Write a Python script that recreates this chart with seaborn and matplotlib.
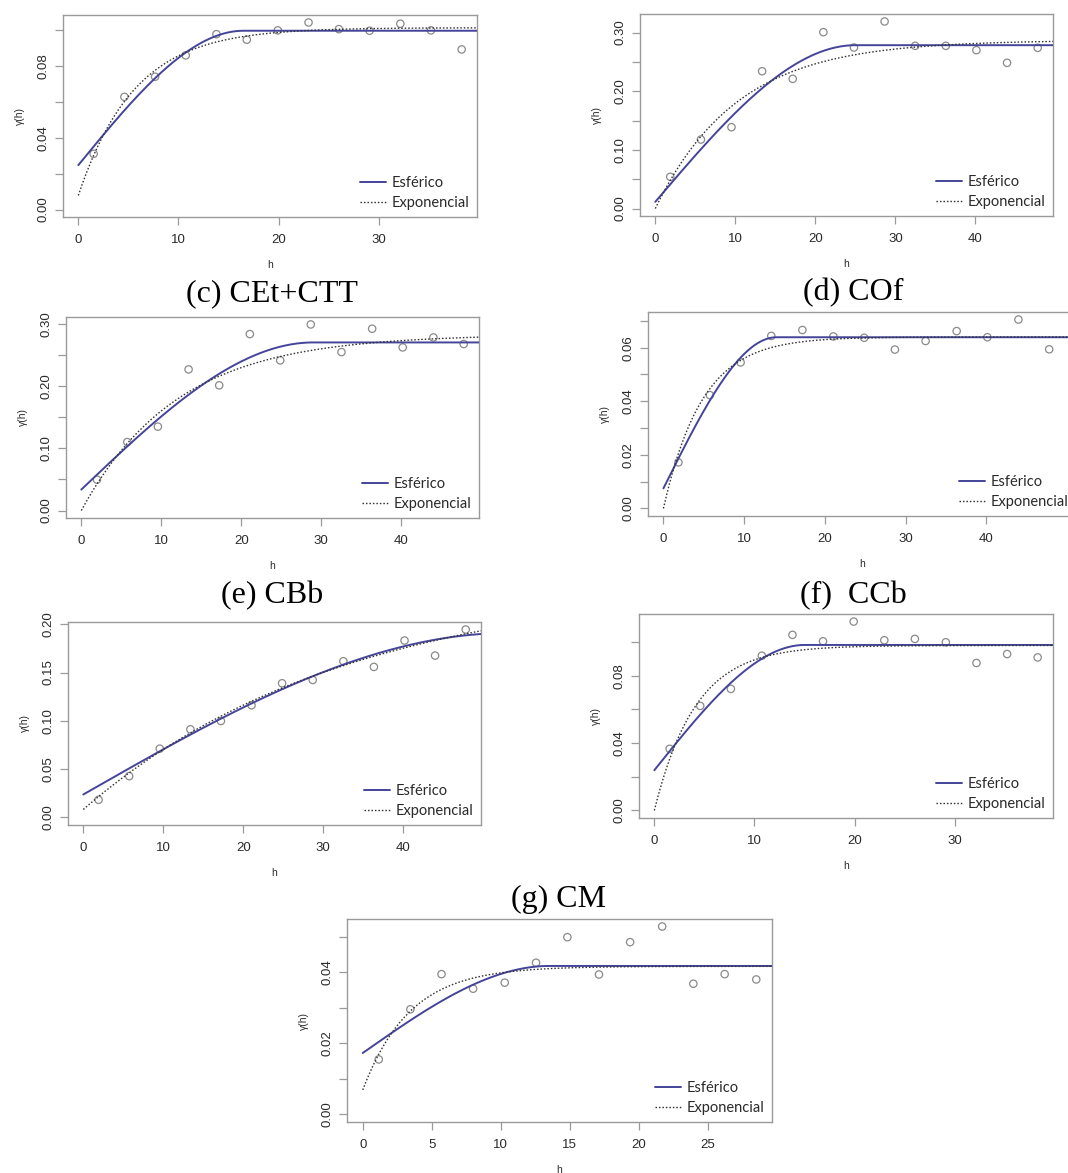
import numpy as np
import pandas as pd
import matplotlib
matplotlib.use("Agg")
import matplotlib.pyplot as plt
import seaborn as sns

# ---------------- data ----------------
captions = ["(c) CEt+CTT", "(d) COf", "(e) CBb", "(f)  CCb", "(g) CM"]
legend_labels = ["Esférico", "Exponencial"]

# panel A (top-left)
h_a = [1.53, 4.60, 7.67, 10.73, 13.80, 16.83, 19.93, 23.00, 26.03, 29.10, 32.17, 35.23, 38.30]
g_a = [0.0310, 0.0627, 0.0739, 0.0858, 0.0976, 0.0945, 0.0997, 0.1041, 0.1004, 0.0995, 0.1034, 0.0997, 0.0891]
sph_a = [0.0247, 0.0748, 16.5]   # nugget, partial sill, range
exp_a = [0.0078, 0.0934, 5.6]

# panel B (top-right)
h_b = [1.87, 5.70, 9.52, 13.35, 17.17, 21.00, 24.82, 28.65, 32.47, 36.30, 40.12, 43.95, 47.78]
g_b = [0.0540, 0.1176, 0.1386, 0.2340, 0.2210, 0.3006, 0.2744, 0.3188, 0.2773, 0.2773, 0.2699, 0.2483, 0.2739]
sph_b = [0.0114, 0.2670, 25.0]
exp_b = [0.0000, 0.2870, 10.2]

# panel C: CEt+CTT
h_c = [1.96, 5.75, 9.58, 13.42, 17.25, 21.08, 24.88, 28.70, 32.54, 36.38, 40.20, 44.04, 47.83]
g_c = [0.0497, 0.1100, 0.1348, 0.2267, 0.2011, 0.2834, 0.2412, 0.2989, 0.2545, 0.2920, 0.2620, 0.2780, 0.2674]
sph_c = [0.0337, 0.2363, 29.0]
exp_c = [0.0000, 0.2830, 12.0]

# panel D: COf
h_d = [1.86, 5.75, 9.56, 13.36, 17.21, 21.05, 24.86, 28.67, 32.47, 36.32, 40.12, 43.97, 47.78]
g_d = [0.0172, 0.0423, 0.0545, 0.0644, 0.0666, 0.0642, 0.0637, 0.0593, 0.0625, 0.0662, 0.0639, 0.0705, 0.0594]
sph_d = [0.0075, 0.0564, 14.0]
exp_d = [0.0000, 0.0640, 4.8]

# panel E: CBb
h_e = [1.91, 5.74, 9.56, 13.39, 17.21, 21.04, 24.86, 28.69, 32.52, 36.34, 40.17, 43.99, 47.82]
g_e = [0.0183, 0.0428, 0.0712, 0.0912, 0.0998, 0.1161, 0.1389, 0.1423, 0.1617, 0.1558, 0.1831, 0.1675, 0.1945]
sph_e = [0.0238, 0.1670, 53.0]
exp_e = [0.0083, 0.2375, 33.0]

# panel F: CCb
h_f = [1.53, 4.58, 7.64, 10.73, 13.79, 16.84, 19.90, 22.96, 26.01, 29.10, 32.16, 35.22, 38.27]
g_f = [0.0366, 0.0621, 0.0722, 0.0919, 0.1043, 0.1005, 0.1122, 0.1011, 0.1019, 0.0999, 0.0876, 0.0929, 0.0909]
sph_f = [0.0239, 0.0744, 15.0]
exp_f = [0.0000, 0.0980, 4.1]

# panel G: CM
h_g = [1.16, 3.45, 5.71, 8.00, 10.29, 12.56, 14.83, 17.12, 19.38, 21.70, 23.96, 26.23, 28.52]
g_g = [0.0155, 0.0296, 0.0395, 0.0354, 0.0371, 0.0427, 0.0499, 0.0394, 0.0485, 0.0529, 0.0368, 0.0395, 0.0380]
sph_g = [0.0173, 0.0245, 13.5]
exp_g = [0.0069, 0.0348, 3.4]

xticks_a = [0, 10, 20, 30]
xticks_b = [0, 10, 20, 30, 40]
xticks_g = [0, 5, 10, 15, 20, 25]

# ---------------- variogram models ----------------
def spherical(h, p):
    c0, c, a = p
    r = np.minimum(h / a, 1.0)
    return c0 + c * (1.5 * r - 0.5 * r ** 3)

def exponential(h, p):
    c0, c, a = p
    return c0 + c * (1.0 - np.exp(-h / a))

# ---------------- style ----------------
sns.set_theme(style="ticks")
plt.rcParams["font.family"] = ["Liberation Sans", "DejaVu Sans"]

W, H = 1068, 1173
fig = plt.figure(figsize=(W / 100, H / 100), dpi=100)

FRAME = "#9a9a9a"
PT_COL = "#8a8a8a"
SPH_COL = "#44449a"
EXP_COL = "#333333"
TXT = "#2a2a2a"

# (left, right, top, bottom) in pixels, y tick step, label every n, xticks, xlim right override
panels = [
    (h_a, g_a, sph_a, exp_a, (63, 477, 15, 217), 0.02, 2, xticks_a, None),
    (h_b, g_b, sph_b, exp_b, (640, 1053, 14, 216), 0.05, 2, xticks_b, None),
    (h_c, g_c, sph_c, exp_c, (66, 479, 317, 518), 0.05, 2, xticks_b, None),
    (h_d, g_d, sph_d, exp_d, (648, 1076, 312, 516), 0.01, 2, xticks_b, 51.1),
    (h_e, g_e, sph_e, exp_e, (68, 481, 622, 825), 0.05, 1, xticks_b, None),
    (h_f, g_f, sph_f, exp_f, (639, 1053, 614, 818), 0.02, 2, xticks_a, None),
    (h_g, g_g, sph_g, exp_g, (347, 772, 919, 1122), 0.01, 2, xticks_g, None),
]

for (hv, gv, sp, ep, (l, r, t, b), ystep, nlab, xt, xr) in panels:
    ax = fig.add_axes([l / W, 1 - b / H, (r - l) / W, (b - t) / H])
    xmax = max(hv)
    ymax = max(gv)
    x_lo, x_hi = -0.04 * xmax, 1.04 * xmax
    if xr is not None:
        x_hi = xr
    hh = np.linspace(0, x_hi, 400)
    df_pts = pd.DataFrame({"h": hv, "g": gv})
    df_sph = pd.DataFrame({"h": hh, "g": spherical(hh, sp)})
    df_exp = pd.DataFrame({"h": hh, "g": exponential(hh, ep)})

    sns.scatterplot(data=df_pts, x="h", y="g", ax=ax, marker="o", s=28,
                    facecolors="none", edgecolor=PT_COL, linewidth=0.9,
                    label="_nolegend_", zorder=3)
    sns.lineplot(data=df_sph, x="h", y="g", ax=ax, color=SPH_COL, linewidth=1.4,
                 label=legend_labels[0], estimator=None, sort=False, zorder=4)
    sns.lineplot(data=df_exp, x="h", y="g", ax=ax, color=EXP_COL, linewidth=1.0,
                 linestyle=(0, (1.1, 1.4)), label=legend_labels[1],
                 estimator=None, sort=False, zorder=4)

    ax.set_xlim(x_lo, x_hi)
    ax.set_ylim(-0.04 * ymax, 1.04 * ymax)

    yt = np.arange(0, 1.04 * ymax + 1e-9, ystep)
    ax.set_yticks(yt)
    ax.set_yticklabels([f"{v:.2f}" if i % nlab == 0 else "" for i, v in enumerate(yt)])
    ax.set_xticks(xt)
    ax.set_xticklabels([str(v) for v in xt])

    for sp_ in ax.spines.values():
        sp_.set_visible(True)
        sp_.set_color(FRAME)
        sp_.set_linewidth(1.0)
    ax.tick_params(axis="both", direction="out", length=6, width=0.9, color=FRAME,
                   labelsize=9.5, labelcolor=TXT)
    ax.tick_params(axis="x", pad=6)
    ax.tick_params(axis="y", pad=4)
    for lab in ax.get_yticklabels():
        lab.set_rotation(90)
        lab.set_va("center")
        lab.set_ha("right")

    ax.set_xlabel("")
    ax.set_ylabel("")
    aw, ah = (r - l), (b - t)
    ax.text(-43 / aw, 0.5, "γ(h)", transform=ax.transAxes, rotation=90,
            ha="center", va="center", fontsize=7.5, color=TXT)
    ax.text(0.5, -48 / ah, "h", transform=ax.transAxes, ha="center", va="center",
            fontsize=7.5, color=TXT)

    leg = ax.legend(loc="lower right", frameon=False,
                    prop={"family": "Lato", "size": 10.5},
                    handlelength=1.8, handletextpad=0.4, labelspacing=0.4,
                    borderaxespad=0.3, borderpad=0.2)
    for txt in leg.get_texts():
        txt.set_color(TXT)

# captions (Times-like)
cap_pos = [(272, 301), (853, 300), (272, 603), (853, 603), (559, 907)]
for cap, (cx, cy) in zip(captions, cap_pos):
    fig.text(cx / W, 1 - cy / H, cap, ha="center", va="baseline",
             fontsize=23, family="Liberation Serif", color="black")

fig.savefig("out.png", dpi=100)
